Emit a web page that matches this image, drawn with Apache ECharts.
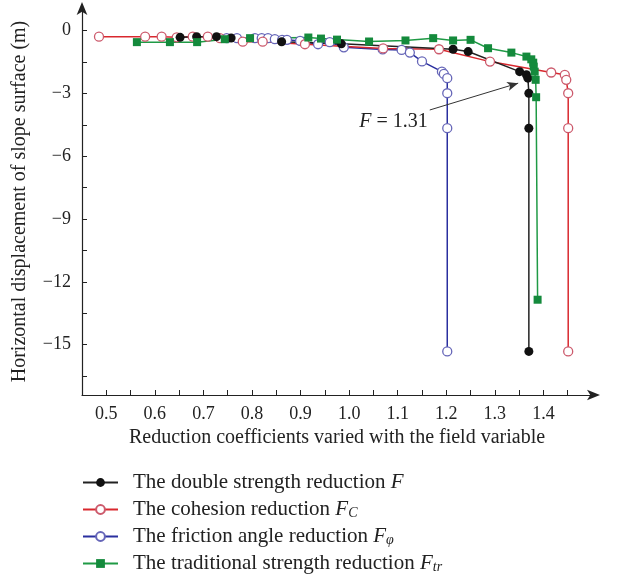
<!DOCTYPE html>
<html><head><meta charset="utf-8">
<script src="https://cdn.jsdelivr.net/npm/echarts@6/dist/echarts.min.js"></script>
<style>html,body{margin:0;padding:0;background:#fff}#c{width:622px;height:578px}</style>
</head><body><div id="c"></div>
<script>
// Double strength reduction F (black)
const doubleX = [0.652, 0.686, 0.727, 0.757, 0.861, 0.984, 1.214, 1.245, 1.351, 1.365, 1.368, 1.370, 1.370, 1.370];
const doubleY = [-0.32, -0.29, -0.29, -0.35, -0.53, -0.63, -0.89, -1.00, -1.96, -2.11, -2.27, -2.99, -4.66, -15.32];
// Cohesion reduction Fc (red)
const cohX = [0.485, 0.580, 0.614, 0.645, 0.678, 0.709, 0.734, 0.781, 0.822, 0.909, 1.070, 1.185, 1.290, 1.416, 1.444, 1.447, 1.451, 1.451, 1.451];
const cohY = [-0.29, -0.29, -0.29, -0.32, -0.29, -0.29, -0.36, -0.53, -0.53, -0.65, -0.85, -0.89, -1.48, -2.00, -2.11, -2.35, -2.99, -4.66, -15.32];
// Friction angle reduction Fphi (blue)
const friX = [0.748, 0.769, 0.806, 0.820, 0.833, 0.847, 0.862, 0.872, 0.899, 0.936, 0.960, 0.989, 1.069, 1.108, 1.125, 1.150, 1.191, 1.195, 1.202, 1.202, 1.202, 1.202];
const friY = [-0.36, -0.36, -0.36, -0.36, -0.36, -0.41, -0.44, -0.44, -0.49, -0.65, -0.55, -0.80, -0.90, -0.92, -1.05, -1.47, -1.96, -2.07, -2.27, -2.99, -4.66, -15.32];
// Traditional strength reduction Ftr (green)
const traX = [0.563, 0.631, 0.687, 0.744, 0.796, 0.916, 0.942, 0.975, 1.041, 1.116, 1.173, 1.214, 1.250, 1.286, 1.334, 1.365, 1.375, 1.379, 1.380, 1.382, 1.384, 1.385, 1.388];
const traY = [-0.55, -0.55, -0.55, -0.41, -0.36, -0.33, -0.38, -0.43, -0.52, -0.47, -0.36, -0.47, -0.44, -0.84, -1.05, -1.24, -1.37, -1.53, -1.72, -1.96, -2.35, -3.18, -12.85];

const xTickLabels = [0.5, 0.6, 0.7, 0.8, 0.9, 1.0, 1.1, 1.2, 1.3, 1.4];
const xTicks = [0.5, 0.55, 0.6, 0.65, 0.7, 0.75, 0.8, 0.85, 0.9, 0.95, 1.0, 1.05, 1.1, 1.15, 1.2, 1.25, 1.3, 1.35, 1.4, 1.45];
const yTickLabels = [0, -3, -6, -9, -12, -15];
const yTicks = [0, -1.5, -3, -4.5, -6, -7.5, -9, -10.5, -12, -13.5, -15, -16.5];

const annotationArrow = [[1.166, -3.79], [1.348, -2.51]];
const annotationText = [1.166, -4.36];

const FONT = 'Liberation Serif';
const zip = (a, b) => a.map((v, i) => [v, b[i]]);

const chart = echarts.init(document.getElementById('c'), null, {renderer: 'canvas'});
const richLegend = {
  i: {fontStyle: 'italic', fontSize: 21, lineHeight: 21, fontFamily: FONT, color: '#222'},
  s: {fontStyle: 'italic', fontSize: 14, lineHeight: 15, fontFamily: FONT, color: '#222', verticalAlign: 'bottom', padding: [6, 0, 0, 0]}
};
const legendNames = {
  'double': 'The double strength reduction {i|F}',
  'cohesion': 'The cohesion reduction {i|F}{s|C}',
  'friction': 'The friction angle reduction {i|F}{s|φ}',
  'traditional': 'The traditional strength reduction {i|F}{s|tr}'
};

chart.setOption({
  animation: false,
  backgroundColor: '#fff',
  grid: {left: 82, top: 8, right: 30, bottom: 183, outerBoundsMode: 'none', containLabel: false},
  legend: {
    orient: 'vertical', left: 82, top: 472, padding: 0, itemWidth: 35, itemHeight: 11, itemGap: 6,
    data: ['double', 'cohesion', 'friction', 'traditional'],
    formatter: n => legendNames[n],
    textStyle: {fontFamily: FONT, fontSize: 21, lineHeight: 21, color: '#222', padding: [0, 0, 0, 10], rich: richLegend}
  },
  xAxis: {
    type: 'value', min: 0.45, max: 1.5,
    name: 'Reduction coefficients varied with the field variable',
    nameLocation: 'middle', nameGap: 33,
    nameTextStyle: {fontFamily: FONT, fontSize: 20, color: '#222'},
    axisLine: {show: true, onZero: false, symbol: ['none', 'arrow'], symbolSize: [8, 13], symbolOffset: [0, 8], lineStyle: {color: '#222', width: 1.2}},
    axisTick: {show: true, inside: true, length: 5, customValues: xTicks, lineStyle: {color: '#222'}},
    axisLabel: {customValues: xTickLabels, formatter: v => v.toFixed(1), fontFamily: FONT, fontSize: 18, color: '#222', margin: 10},
    splitLine: {show: false}
  },
  yAxis: {
    type: 'value', min: -17.4, max: 1.08,
    name: 'Horizontal displacement of slope surface (m)',
    nameLocation: 'middle', nameGap: 52,
    nameTextStyle: {fontFamily: FONT, fontSize: 20, color: '#222'},
    axisLine: {show: true, onZero: false, symbol: ['none', 'arrow'], symbolSize: [8, 13], symbolOffset: [0, 6], lineStyle: {color: '#222', width: 1.2}},
    axisTick: {show: true, inside: true, length: 5, customValues: yTicks, lineStyle: {color: '#222'}},
    axisLabel: {customValues: yTickLabels, formatter: v => String(v).replace('-', '\u2212'), fontFamily: FONT, fontSize: 18, color: '#222', margin: 11},
    splitLine: {show: false}
  },
  series: [
    {name: 'friction', type: 'line', data: zip(friX, friY), symbol: 'circle', symbolSize: 9,
     lineStyle: {color: '#2a2f9f', width: 1.5}, itemStyle: {color: '#fff', borderColor: '#6666b8', borderWidth: 1.3}},
    {name: 'cohesion', type: 'line', data: zip(cohX, cohY), symbol: 'circle', symbolSize: 9,
     lineStyle: {color: '#d9282e', width: 1.5}, itemStyle: {color: '#fff', borderColor: '#cc5a6c', borderWidth: 1.3}},
    {name: 'double', type: 'line', data: zip(doubleX, doubleY), symbol: 'circle', symbolSize: 9,
     lineStyle: {color: '#222', width: 1.5}, itemStyle: {color: '#111'},
     markLine: {silent: true, symbol: ['none', 'arrow'], symbolSize: [7, 11], label: {show: false},
       lineStyle: {color: '#333', width: 1, type: 'solid'},
       data: [[{coord: annotationArrow[0]}, {coord: annotationArrow[1]}]]},
     markPoint: {silent: true, symbol: 'circle', symbolSize: 0,
       data: [{coord: annotationText, label: {show: true, position: 'left', distance: 2,
         formatter: '{i|F} = 1.31', fontFamily: FONT, fontSize: 20, color: '#222',
         rich: {i: {fontStyle: 'italic', fontFamily: FONT, fontSize: 20, color: '#222'}}}}]}},
    {name: 'traditional', type: 'line', data: zip(traX, traY), symbol: 'rect', symbolSize: 8,
     lineStyle: {color: '#1f9a45', width: 1.5}, itemStyle: {color: '#148a3c'}}
  ]
});
</script>
</body></html>
